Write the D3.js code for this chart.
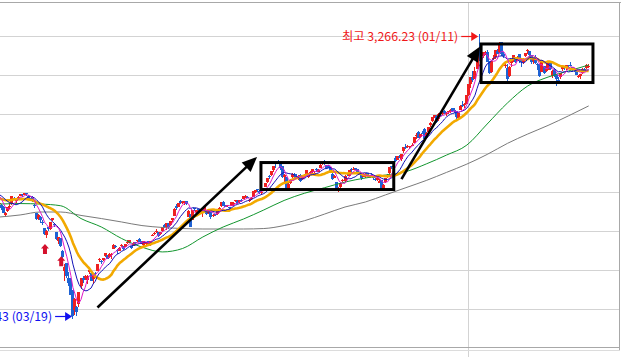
<!DOCTYPE html>
<html><head><meta charset="utf-8">
<script src="https://cdn.jsdelivr.net/npm/d3@7/dist/d3.min.js"></script>
<style>html,body{margin:0;padding:0;background:#fff;overflow:hidden}svg{display:block}</style>
</head><body><svg id="chart" width="621" height="357"></svg>
<script>
// ---- categories: trading days (YYMMDD) ----
const dates = [
"200129","200130","200131",
"200203","200204","200205","200206","200207","200210","200211","200212","200213","200214","200217","200218","200219","200220","200221","200224","200225","200226","200227","200228",
"200302","200303","200304","200305","200306","200309","200310","200311","200312","200313","200316","200317","200318","200319","200320","200323","200324","200325","200326","200327","200330","200331",
"200401","200402","200403","200406","200407","200408","200409","200410","200413","200414","200416","200417","200420","200421","200422","200423","200424","200427","200428","200429",
"200504","200506","200507","200508","200511","200512","200513","200514","200515","200518","200519","200520","200521","200522","200525","200526","200527","200528","200529",
"200601","200602","200603","200604","200605","200608","200609","200610","200611","200612","200615","200616","200617","200618","200619","200622","200623","200624","200625","200626","200629","200630",
"200701","200702","200703","200706","200707","200708","200709","200710","200713","200714","200715","200716","200717","200720","200721","200722","200723","200724","200727","200728","200729","200730","200731",
"200803","200804","200805","200806","200807","200810","200811","200812","200813","200814","200818","200819","200820","200821","200824","200825","200826","200827","200828","200831",
"200901","200902","200903","200904","200907","200908","200909","200910","200911","200914","200915","200916","200917","200918","200921","200922","200923","200924","200925","200928","200929",
"201005","201006","201007","201008","201012","201013","201014","201015","201016","201019","201020","201021","201022","201023","201026","201027","201028","201029","201030",
"201102","201103","201104","201105","201106","201109","201110","201111","201112","201113","201116","201117","201118","201119","201120","201123","201124","201125","201126","201127","201130",
"201201","201202","201203","201204","201207","201208","201209","201210","201211","201214","201215","201216","201217","201218","201221","201222","201223","201224","201228","201229","201230",
"210104","210105","210106","210107","210108","210111","210112","210113","210114","210115","210118","210119","210120","210121","210122","210125","210126","210127","210128","210129",
"210201","210202","210203","210204","210205","210208","210209","210210","210215","210216","210217","210218","210219","210222","210223","210224","210225","210226",
"210302","210303","210304","210305","210308","210309","210310","210311","210312","210315","210316","210317","210318","210319","210322","210323","210324","210325","210326","210329","210330","210331"
];
const openP = [
2180,2172,2156,
2103,2130,2160,2177,2215,2196,2212,2230,2240,2236,2244,2230,2217,2218,2171,2119,2082,2092,2061,2020,
1978,2030,2014,2072,2049,1995,1940,1956,1877,1744,1800,1703,1695,1626,1498,1515,1537,1650,1705,1701,1690,1742,
1737,1693,1731,1747,1820,1811,1820,1840,1850,1839,1847,1891,1905,1881,1875,1910,1904,1900,1928,1934,
1906,1910,1931,1939,1952,1934,1915,1920,1937,1918,1971,1982,1996,1996,1985,2003,2041,2027,2057,
2040,2072,2101,2166,2160,2197,2183,2188,2195,2095,2109,2075,2149,2128,2143,2131,2127,2139,2127,2117,2125,2103,
2113,2110,2139,2163,2192,2164,2162,2158,2165,2180,2195,2195,2190,2202,2210,2222,2222,2195,2206,2221,2255,2271,2262,
2247,2263,2286,2318,2355,2362,2394,2439,2443,2436,2417,2347,2348,2269,2312,2350,2370,2353,2334,2360,
2336,2349,2368,2351,2380,2382,2368,2403,2382,2407,2437,2452,2426,2417,2412,2370,2346,2319,2271,2287,2326,
2322,2372,2357,2399,2399,2407,2399,2383,2367,2350,2359,2378,2346,2365,2357,2339,2327,2313,2330,
2275,2316,2352,2377,2417,2438,2470,2457,2478,2464,2513,2544,2541,2539,2547,2566,2610,2637,2603,2634,2654,
2610,2641,2681,2707,2737,2743,2718,2749,2754,2773,2754,2769,2775,2794,2781,2774,2725,2779,2813,2817,2820,
2874,2943,2993,2980,3040,3161,3148,3128,3145,3153,3096,3020,3109,3121,3159,3153,3213,3141,3066,3046,
3000,3077,3100,3111,3096,3136,3099,3085,3125,3155,3155,3129,3095,3117,3075,3073,3020,3061,
3027,3038,3078,2999,3038,3001,2974,2989,3040,3059,3045,3053,3067,3056,3040,3041,2994,2994,3018,3040,3049,3052
];
const highP = [
2189,2176,2163,
2128,2160,2180,2228,2223,2204,2228,2242,2243,2246,2247,2232,2217,2226,2174,2119,2110,2101,2074,2024,
2010,2031,2062,2089,2055,1995,1967,1956,1880,1792,1800,1742,1699,1626,1574,1522,1613,1705,1712,1721,1718,1763,
1752,1726,1738,1792,1830,1815,1832,1862,1851,1860,1859,1918,1915,1890,1898,1922,1909,1923,1947,1948,
1908,1935,1934,1948,1956,1936,1941,1928,1937,1939,1985,1998,2014,1996,1998,2031,2045,2055,2057,
2066,2088,2150,2174,2183,2200,2195,2197,2195,2138,2113,2140,2153,2141,2146,2137,2139,2163,2130,2137,2126,2114,
2114,2137,2155,2188,2193,2169,2171,2160,2187,2186,2204,2199,2203,2207,2230,2232,2227,2208,2221,2258,2267,2273,2268,
2262,2282,2313,2343,2365,2387,2419,2447,2458,2446,2417,2369,2350,2318,2335,2373,2374,2367,2363,2368,
2351,2367,2396,2377,2389,2403,2386,2406,2400,2430,2448,2458,2428,2425,2413,2372,2363,2319,2284,2310,2335,
2359,2375,2392,2407,2411,2410,2402,2384,2370,2373,2372,2378,2360,2374,2359,2346,2349,2339,2330,
2302,2346,2371,2414,2420,2451,2481,2486,2489,2494,2543,2564,2554,2548,2567,2604,2633,2642,2627,2643,2665,
2635,2673,2703,2732,2750,2745,2757,2761,2772,2780,2765,2774,2783,2794,2790,2774,2760,2812,2834,2824,2878,
2946,2991,3027,3055,3161,3266.23,3157,3150,3154,3164,3096,3095,3130,3161,3173,3213,3213,3151,3082,3072,
3060,3097,3130,3119,3122,3136,3109,3111,3147,3167,3155,3129,3108,3131,3083,3074,3100,3063,
3075,3084,3085,3034,3050,3001,2993,3017,3055,3062,3070,3065,3086,3057,3050,3041,3006,3010,3046,3045,3072,3074
];
const lowP = [
2165,2140,2119,
2095,2125,2145,2172,2200,2183,2207,2225,2218,2231,2230,2201,2196,2188,2150,2074,2074,2055,2043,1980,
1958,2001,2010,2067,2032,1947,1919,1903,1831,1680,1703,1652,1591,1439.43,1466,1458,1519,1633,1670,1690,1665,1729,
1685,1664,1708,1744,1806,1791,1808,1834,1824,1833,1825,1888,1892,1853,1874,1902,1883,1899,1922,1928,
1891,1906,1916,1930,1933,1918,1910,1909,1917,1906,1968,1979,1993,1966,1979,2000,2020,2012,2018,
2035,2059,2101,2141,2154,2177,2177,2173,2170,2092,2030,2072,2129,2114,2119,2116,2093,2136,2108,2114,2079,2094,
2097,2105,2136,2157,2161,2154,2156,2143,2162,2163,2191,2174,2183,2186,2207,2212,2213,2190,2199,2218,2248,2254,2239,
2237,2258,2285,2308,2336,2357,2382,2408,2431,2397,2340,2310,2274,2267,2304,2345,2345,2336,2330,2320,
2329,2342,2364,2343,2364,2378,2366,2383,2379,2404,2426,2427,2399,2404,2384,2327,2340,2271,2254,2279,2318,
2320,2357,2355,2384,2392,2395,2378,2361,2333,2348,2344,2355,2340,2353,2328,2323,2322,2311,2266,
2257,2312,2342,2371,2402,2430,2446,2456,2468,2451,2504,2532,2535,2530,2545,2565,2595,2601,2599,2624,2591,
2601,2632,2670,2703,2726,2696,2711,2732,2749,2751,2742,2753,2760,2768,2758,2721,2722,2779,2797,2792,2820,
2869,2921,2961,2980,3040,3096,3047,3109,3132,3085,3009,3019,3101,3106,3136,3146,3123,3110,3048,2966,
2989,3057,3086,3083,3091,3080,3053,3072,3118,3135,3120,3074,3074,3076,3035,2989,3020,3010,
3023,3037,3037,2987,2990,2935,2953,2979,3029,3035,3036,3039,3063,3025,3023,3002,2985,2977,3012,3029,3040,3045
];
const closeP = [
2185.28,2148.00,2119.01,
2118.88,2157.90,2165.63,2227.94,2211.95,2201.07,2223.12,2238.38,2232.08,2243.59,2242.17,2208.88,2210.34,2195.50,2162.84,2079.04,2103.61,2076.77,2054.89,1987.01,
2002.51,2014.15,2059.33,2085.26,2040.22,1954.77,1962.93,1908.27,1834.33,1771.44,1714.86,1672.44,1591.20,1457.64,1566.15,1482.46,1609.97,1704.76,1686.24,1717.73,1717.12,1754.64,
1685.46,1724.86,1725.44,1791.88,1823.60,1807.14,1828.08,1860.70,1825.76,1857.08,1857.07,1914.53,1898.36,1879.38,1896.15,1914.58,1889.01,1922.77,1934.19,1947.56,
1895.37,1928.76,1924.96,1945.82,1935.40,1922.17,1940.42,1924.13,1927.28,1937.11,1980.54,1989.64,2004.06,1970.13,1994.60,2029.78,2031.20,2054.52,2029.60,
2065.08,2087.19,2147.00,2151.18,2181.87,2184.29,2188.92,2195.69,2176.78,2132.30,2030.82,2138.05,2141.05,2134.65,2141.32,2126.73,2131.24,2161.51,2112.37,2134.65,2093.48,2108.33,
2106.70,2135.37,2152.41,2187.93,2164.17,2159.33,2167.56,2150.25,2186.06,2183.61,2201.19,2183.76,2201.29,2198.20,2228.66,2225.89,2216.19,2200.44,2217.86,2256.99,2263.16,2267.90,2249.37,
2251.04,2279.97,2311.86,2342.61,2351.67,2386.38,2418.67,2432.35,2437.53,2407.49,2348.24,2360.54,2274.22,2304.59,2329.83,2369.44,2366.73,2343.89,2353.80,2326.17,
2349.55,2364.24,2395.90,2368.25,2384.22,2401.91,2375.81,2396.48,2396.69,2427.66,2443.58,2435.91,2406.17,2412.40,2389.35,2333.44,2358.24,2272.70,2278.79,2308.08,2327.89,
2358.00,2365.90,2391.96,2391.81,2403.15,2403.73,2380.48,2361.21,2341.53,2355.25,2370.86,2358.41,2355.08,2360.81,2343.91,2330.84,2345.26,2326.67,2267.15,
2300.16,2343.31,2357.32,2413.79,2416.50,2447.20,2452.83,2485.87,2475.62,2493.87,2543.03,2543.75,2545.64,2547.42,2553.50,2602.59,2617.76,2601.54,2625.91,2633.45,2591.34,
2634.25,2672.85,2696.22,2731.45,2745.44,2700.93,2755.47,2746.46,2770.06,2760.82,2762.20,2771.79,2781.16,2772.18,2778.65,2733.68,2759.82,2806.86,2808.60,2820.51,2873.47,
2944.45,2990.57,2968.21,3031.68,3152.18,3148.45,3125.95,3148.29,3149.93,3085.90,3013.93,3092.66,3114.55,3160.84,3140.63,3208.99,3140.31,3122.56,3069.05,2976.21,
3056.53,3096.81,3129.68,3087.55,3120.63,3091.24,3084.67,3100.58,3147.00,3163.25,3133.73,3086.66,3107.62,3079.75,3070.09,2994.98,3099.69,3012.95,
3043.49,3082.99,3043.87,3026.26,2996.11,2976.12,2958.12,3013.70,3054.39,3045.71,3067.17,3047.50,3066.01,3039.53,3035.46,3004.74,2996.35,3008.33,3041.01,3036.04,3070.00,3061.42
];
// closes of the 19 sessions before the first visible candle (for short moving averages)
const priorCloses = [2204.21,2197.67,2175.54,2176.46,2155.07,2175.17,2151.31,2186.45,2206.39,2229.26,2238.88,2230.98,2248.05,2250.57,2262.64,2239.69,2267.25,2246.13,2176.72];
// long moving averages every 10 sessions
const maSampleIdx = [0,10,20,30,40,50,60,70,80,90,100,110,120,130,140,150,160,170,180,190,200,210,220,230,240,250,260,270,280,290];
const ma60Sample  = [2176,2179,2176,2165,2083,2029,1955,1900,1869,1891,1965,2029,2080,2138,2199,2245,2281,2317,2343,2362,2384,2433,2490,2554,2689,2824,2933,2990,3029,3067];
const ma120Sample = [2093,2106,2125,2125,2103,2083,2061,2038,2026,2019,2016,2016,2016,2019,2038,2069,2112,2157,2189,2235,2281,2327,2379,2432,2494,2565,2625,2680,2741,2805];
// price gridlines
const gridValues = [1500,1750,2000,2250,2500,2750,3000,3250];
// annotations (session index / price space)
const signalIdx = [22,30];
const boxIdx0 = [128.6,237.0], boxIdx1 = [194.0,292.1], boxLowP = [2269,2955], boxHighP = [2442,3202];
const trendIdx0 = [48.1,197.8], trendP0 = [1513,2336], trendIdx1 = [126.7,236.5], trendP1 = [2478,3186];

// ---------------- drawing ----------------
const N = closeP.length;
[dates, openP, highP, lowP].forEach((a,i)=>{ if (a.length!==N) console.error('length mismatch', i, a.length, N); });
const svg = d3.select('#chart');
const x = d3.scaleLinear().domain([0, N-1]).range([-0.2, 588.7]);
const y = d3.scaleLinear().domain([1250, 3250]).range([348.5, 36.5]);

svg.append('defs').append('clipPath').attr('id','plot')
  .append('rect').attr('x',0).attr('y',3).attr('width',619).attr('height',344);

// grid
const grid = svg.append('g').attr('shape-rendering','crispEdges');
grid.selectAll('line.h').data(gridValues).join('line').attr('class','h')
  .attr('x1',0).attr('x2',619).attr('y1',d=>Math.floor(y(d))+0.5).attr('y2',d=>Math.floor(y(d))+0.5)
  .attr('stroke','#d3d3d3');
const yearIdx = dates.findIndex((d,i)=> i>0 && d.slice(0,2)!==dates[i-1].slice(0,2));
grid.append('line').attr('x1',Math.floor(x(yearIdx))+0.5).attr('x2',Math.floor(x(yearIdx))+0.5)
  .attr('y1',3).attr('y2',357).attr('stroke','#d3d3d3');
// frame
grid.append('line').attr('x1',0).attr('x2',621).attr('y1',2.5).attr('y2',2.5).attr('stroke','#a8a8a8');
grid.append('line').attr('x1',619.5).attr('x2',619.5).attr('y1',2).attr('y2',350).attr('stroke','#a8a8a8');
grid.append('line').attr('x1',0).attr('x2',620).attr('y1',347.5).attr('y2',347.5).attr('stroke','#a8a8a8');
grid.append('line').attr('x1',0).attr('x2',620).attr('y1',350.5).attr('y2',350.5).attr('stroke','#dcdcdc');

const plot = svg.append('g').attr('clip-path','url(#plot)');

// candles
const UP = '#ee2020', DOWN = '#1e62d4';
const idx = d3.range(N);
const cg = plot.append('g').attr('shape-rendering','crispEdges');
cg.selectAll('line').data(idx).join('line')
  .attr('x1',i=>Math.floor(x(i))+0.5).attr('x2',i=>Math.floor(x(i))+0.5)
  .attr('y1',i=>y(highP[i])).attr('y2',i=>y(lowP[i]))
  .attr('stroke',i=>closeP[i]>=openP[i]?UP:DOWN).attr('stroke-width',1);
cg.selectAll('rect').data(idx).join('rect')
  .attr('x',i=>Math.floor(x(i))-1).attr('width',3)
  .attr('y',i=>y(Math.max(openP[i],closeP[i])))
  .attr('height',i=>Math.max(1, y(Math.min(openP[i],closeP[i]))-y(Math.max(openP[i],closeP[i]))))
  .attr('fill',i=>closeP[i]>=openP[i]?UP:DOWN);

// moving averages
const allC = priorCloses.concat(closeP);
const P = priorCloses.length;
function ma(n){ return idx.map(i=> d3.mean(allC.slice(i+P-n+1, i+P+1))); }
const line = d3.line().x(d=>x(d[0])).y(d=>y(d[1]));
const smooth = d3.line().x(d=>x(d[0])).y(d=>y(d[1])).curve(d3.curveMonotoneX);
plot.append('path').attr('d',smooth(maSampleIdx.map((k,j)=>[k,ma120Sample[j]])))
  .attr('fill','none').attr('stroke','#7a7a7a').attr('stroke-width',1);
plot.append('path').attr('d',smooth(maSampleIdx.map((k,j)=>[k,ma60Sample[j]])))
  .attr('fill','none').attr('stroke','#12962e').attr('stroke-width',1);
const ma20 = ma(20), ma10 = ma(10), ma5 = ma(5);
plot.append('path').attr('d',line(idx.map(i=>[i,ma20[i]])))
  .attr('fill','none').attr('stroke','#f2a900').attr('stroke-width',2.6).attr('stroke-linejoin','round');
plot.append('path').attr('d',line(idx.map(i=>[i,ma10[i]])))
  .attr('fill','none').attr('stroke','#1212b8').attr('stroke-width',1);
plot.append('path').attr('d',line(idx.map(i=>[i,ma5[i]])))
  .attr('fill','none').attr('stroke','#e018c8').attr('stroke-width',1);

// boxes
const ann = svg.append('g');
boxIdx0.forEach((k,j)=>{
  ann.append('rect').attr('x',x(k)).attr('y',y(boxHighP[j]))
    .attr('width',x(boxIdx1[j])-x(k)).attr('height',y(boxLowP[j])-y(boxHighP[j]))
    .attr('fill','none').attr('stroke','#000').attr('stroke-width',3);
});
// trend arrows
trendIdx0.forEach((k,j)=>{
  const x0=x(k), y0=y(trendP0[j]), x1=x(trendIdx1[j]), y1=y(trendP1[j]);
  const dx=x1-x0, dy=y1-y0, L=Math.hypot(dx,dy), ux=dx/L, uy=dy/L;
  const hl=15, hw=6.5;
  const bx=x1-ux*hl, by=y1-uy*hl;
  ann.append('line').attr('x1',x0).attr('y1',y0).attr('x2',bx+ux*2).attr('y2',by+uy*2)
    .attr('stroke','#000').attr('stroke-width',2.6);
  ann.append('path').attr('d',`M${x1},${y1}L${bx-uy*hw},${by+ux*hw}L${bx+uy*hw},${by-ux*hw}Z`).attr('fill','#000');
});
// signal arrows
signalIdx.forEach(k=>{
  const cx=x(k)+0.5, t=y(lowP[k])+9.5;
  ann.append('path').attr('d',`M${cx},${t}L${cx+4},${t+4.5}L${cx+2},${t+4.5}L${cx+2},${t+10}L${cx-2},${t+10}L${cx-2},${t+4.5}L${cx-4},${t+4.5}Z`)
    .attr('fill','#d4102c');
});
// high / low labels
const fmt = d3.format(',.2f');
const hiK = d3.maxIndex(highP), loK = d3.minIndex(lowP);
const md = s => s.slice(2,4)+'/'+s.slice(4,6);
function label(k, price, dy, color, txt){
  const tip = x(k)-0.8, yy = Math.round(y(price)+dy)+0.5;
  ann.append('line').attr('x1',tip-17).attr('x2',tip-5).attr('y1',yy).attr('y2',yy).attr('stroke',color).attr('stroke-width',1.2);
  ann.append('path').attr('d',`M${tip},${yy}L${tip-7},${yy-4.5}L${tip-7},${yy+4.5}Z`).attr('fill',color);
  ann.append('text').attr('x',tip-20).attr('y',yy+4.3).attr('text-anchor','end')
    .attr('font-family','"Noto Sans CJK KR", "Noto Sans", sans-serif').attr('font-size',12.3)
    .attr('fill',color).text(txt);
}
label(hiK, highP[hiK], 2, '#f01818', '최고 '+fmt(highP[hiK])+' ('+md(dates[hiK])+')');
label(loK, lowP[loK], -3, '#1010f0', '최저 '+fmt(lowP[loK])+' ('+md(dates[loK])+')');
</script>
</body></html>
